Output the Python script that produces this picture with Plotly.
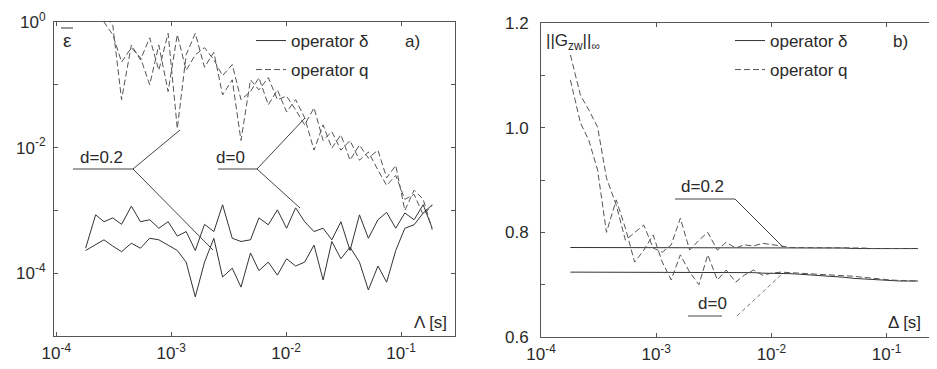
import plotly.graph_objects as go

# ---------------- data ----------------
delta_s = [1.8e-4, 2.2e-4, 2.6e-4, 3.1e-4, 3.7e-4, 4.5e-4, 5.4e-4, 6.5e-4, 7.8e-4, 9.4e-4,
           1.13e-3, 1.35e-3, 1.62e-3, 1.95e-3, 2.35e-3, 2.8e-3, 3.4e-3, 4.05e-3, 4.9e-3, 5.8e-3,
           7.0e-3, 8.4e-3, 1.01e-2, 1.21e-2, 1.45e-2, 1.75e-2, 2.1e-2, 2.5e-2, 3.0e-2, 3.6e-2,
           4.35e-2, 5.2e-2, 6.3e-2, 7.5e-2, 9.0e-2, 0.108, 0.13, 0.156, 0.187]

# panel a) mean error
eps_q_d02 = [2.0, 1.86, 1.29, 0.89, 0.058, 0.43, 0.25, 0.56, 0.17, 0.66,
             0.020, 0.30, 0.66, 0.19, 0.33, 0.069, 0.12, 0.013, 0.12, 0.083,
             0.13, 0.058, 0.066, 0.040, 0.023, 0.043, 0.013, 0.018, 0.0091, 0.013,
             0.0063, 0.0085, 0.0044, 0.0025, 0.0036, 0.0015, 0.0018, 0.00085, 0.0012]
eps_q_d0 = [3.2, 1.55, 1.0, 0.63, 0.23, 0.39, 0.27, 0.10, 0.43, 0.078,
            0.63, 0.17, 0.30, 0.39, 0.25, 0.14, 0.21, 0.058, 0.078, 0.13,
            0.048, 0.083, 0.037, 0.058, 0.030, 0.0091, 0.023, 0.0098, 0.016, 0.0063,
            0.011, 0.0068, 0.0091, 0.0033, 0.0052, 0.0010, 0.0021, 0.0015, 0.00049]
eps_delta_d0 = [2.5e-4, 8.5e-4, 6.6e-4, 7.6e-4, 6.0e-4, 1.17e-3, 6.6e-4, 7.1e-4, 5.2e-4, 6.6e-4,
                3.9e-4, 4.6e-4, 2.3e-4, 6.0e-4, 4.6e-4, 1.23e-3, 3.6e-4, 3.2e-4, 3.4e-4, 7.6e-4,
                5.9e-4, 1.02e-3, 5.2e-4, 1.1e-3, 6.6e-4, 4.6e-4, 5.2e-4, 3.4e-4, 6.6e-4, 2.3e-4,
                8.5e-4, 3.6e-4, 7.1e-4, 9.3e-4, 5.2e-4, 9.1e-4, 7.1e-4, 1.23e-3, 5.2e-4]
eps_delta_d02 = [2.3e-4, 2.8e-4, 3.4e-4, 2.7e-4, 2.2e-4, 3.0e-4, 2.5e-4, 3.6e-4, 3.4e-4, 2.8e-4,
                 2.3e-4, 1.5e-4, 4.2e-5, 1.5e-4, 3.6e-4, 8.7e-5, 1.2e-4, 6.0e-5, 2.1e-4, 1.1e-4,
                 1.5e-4, 9.3e-5, 1.7e-4, 1.3e-4, 1.5e-4, 2.8e-4, 7.8e-5, 3.2e-4, 1.7e-4, 2.6e-4,
                 1.5e-4, 5.4e-5, 1.3e-4, 7.2e-5, 2.3e-4, 5.2e-4, 5.9e-4, 9.1e-4, 1.23e-3]

# panel b) H-infinity norm
g_q_d02 = [1.139, 1.062, 1.034, 1.001, 0.904, 0.852, 0.785, 0.800, 0.814, 0.770,
           0.762, 0.776, 0.827, 0.766, 0.785, 0.800, 0.766, 0.781, 0.770, 0.776,
           0.774, 0.779, 0.777, 0.774, 0.771, 0.771, 0.771, 0.771, 0.771, 0.770,
           0.770, 0.770, 0.770, 0.769, 0.769, 0.769, 0.769, 0.769, 0.769]
g_q_d0 = [1.091, 1.009, 0.976, 0.919, 0.800, 0.862, 0.808, 0.743, 0.766, 0.795,
          0.743, 0.709, 0.757, 0.724, 0.700, 0.757, 0.709, 0.728, 0.705, 0.718,
          0.728, 0.718, 0.722, 0.724, 0.723, 0.722, 0.722, 0.721, 0.720, 0.719,
          0.718, 0.716, 0.714, 0.712, 0.710, 0.709, 0.708, 0.707, 0.707]
g_delta_d02 = [0.771, 0.771, 0.771, 0.771, 0.771, 0.771, 0.771, 0.771, 0.771, 0.771,
               0.771, 0.771, 0.771, 0.771, 0.771, 0.771, 0.771, 0.771, 0.771, 0.771,
               0.771, 0.771, 0.771, 0.771, 0.771, 0.771, 0.770, 0.770, 0.770, 0.770,
               0.770, 0.769, 0.769, 0.769, 0.769, 0.769, 0.769, 0.769, 0.769]
g_delta_d0 = [0.724, 0.724, 0.724, 0.724, 0.724, 0.724, 0.724, 0.724, 0.724, 0.724,
              0.724, 0.724, 0.724, 0.724, 0.724, 0.724, 0.724, 0.724, 0.724, 0.723,
              0.723, 0.722, 0.722, 0.721, 0.721, 0.720, 0.719, 0.718, 0.717, 0.716,
              0.714, 0.712, 0.711, 0.709, 0.708, 0.707, 0.707, 0.707, 0.707]

x_tickvals = [1e-4, 1e-3, 1e-2, 1e-1]
x_ticktext = ["10<sup>-4</sup>", "10<sup>-3</sup>", "10<sup>-2</sup>", "10<sup>-1</sup>"]
ya_tickvals = [1, 1e-1, 1e-2, 1e-3, 1e-4, 1e-5]
ya_ticktext = ["10<sup>0</sup>", "", "10<sup>-2</sup>", "", "10<sup>-4</sup>", ""]
yb_tickvals = [0.6, 0.7, 0.8, 0.9, 1.0, 1.1, 1.2]
yb_ticktext = ["0.6", "", "0.8", "", "1.0", "", "1.2"]

# ---------------- figure ----------------
# The page body has an 8 px margin, so the figure is made 8 px smaller and every
# reference-pixel position is shifted by that offset.
OFF = 8
W, H = 937 - OFF, 369 - OFF
FONT = "Liberation Sans, Arial, sans-serif"
INK = "#2a2a2a"
LINE_D = dict(color="#333333", width=1)
LINE_Q = dict(color="#555555", width=1, dash="6px,3px")


def px(x):
    return (x - OFF) / W


def py(y):
    return 1 - (y - OFF) / H


fig = go.Figure()

# panel a
fig.add_trace(go.Scatter(x=delta_s, y=eps_delta_d0, mode="lines", line=LINE_D, name="operator δ",
                         xaxis="x", yaxis="y", legend="legend", showlegend=True))
fig.add_trace(go.Scatter(x=delta_s, y=eps_delta_d02, mode="lines", line=LINE_D, name="operator δ",
                         xaxis="x", yaxis="y", showlegend=False))
fig.add_trace(go.Scatter(x=delta_s, y=eps_q_d0, mode="lines", line=LINE_Q, name="operator q",
                         xaxis="x", yaxis="y", legend="legend2", showlegend=True))
fig.add_trace(go.Scatter(x=delta_s, y=eps_q_d02, mode="lines", line=LINE_Q, name="operator q",
                         xaxis="x", yaxis="y", showlegend=False))

# panel b
fig.add_trace(go.Scatter(x=delta_s, y=g_delta_d02, mode="lines", line=LINE_D, name="operator δ",
                         xaxis="x2", yaxis="y2", legend="legend3", showlegend=True))
fig.add_trace(go.Scatter(x=delta_s, y=g_delta_d0, mode="lines", line=LINE_D, name="operator δ",
                         xaxis="x2", yaxis="y2", showlegend=False))
fig.add_trace(go.Scatter(x=delta_s, y=g_q_d02, mode="lines", line=LINE_Q, name="operator q",
                         xaxis="x2", yaxis="y2", legend="legend4", showlegend=True))
fig.add_trace(go.Scatter(x=delta_s, y=g_q_d0, mode="lines", line=LINE_Q, name="operator q",
                         xaxis="x2", yaxis="y2", showlegend=False))

axis_common = dict(showgrid=False, zeroline=False, showline=True, linecolor="#555555", linewidth=1,
                   mirror="ticks", ticks="inside", ticklen=4, tickcolor="#555555",
                   automargin=False,
                   tickfont=dict(family=FONT, size=17, color=INK))

fig.update_layout(
    width=W, height=H,
    margin=dict(l=0, r=0, t=0, b=0, autoexpand=False),
    paper_bgcolor="white", plot_bgcolor="white",
    font=dict(family=FONT, size=17, color=INK),
    xaxis=dict(type="log", domain=[px(54), px(455)], range=[-4.02, -0.53], anchor="y",
               tickvals=x_tickvals, ticktext=x_ticktext, ticklabelstandoff=2, **axis_common),
    yaxis=dict(type="log", domain=[py(336), py(22)], range=[-5, 0], anchor="x",
               tickvals=ya_tickvals, ticktext=ya_ticktext, ticklabelstandoff=4, **axis_common),
    xaxis2=dict(type="log", domain=[px(541), px(935)], range=[-4.0, -0.58], anchor="y2",
                tickvals=x_tickvals, ticktext=x_ticktext, ticklabelstandoff=2, **axis_common),
    yaxis2=dict(domain=[py(337), py(23)], range=[0.6, 1.2], anchor="x2",
                tickvals=yb_tickvals, ticktext=yb_ticktext, ticklabelstandoff=8, **axis_common),
)

leg_common = dict(xanchor="left", yanchor="middle", bgcolor="rgba(0,0,0,0)", borderwidth=0,
                  font=dict(family=FONT, size=17, color=INK))
fig.update_layout(
    legend=dict(x=px(251), y=py(41), **leg_common),
    legend2=dict(x=px(251), y=py(70), **leg_common),
    legend3=dict(x=px(730), y=py(41), **leg_common),
    legend4=dict(x=px(730), y=py(70), **leg_common),
)

ann = []


def text(x, y, s, size=17, xanchor="center"):
    ann.append(dict(x=px(x), y=py(y), xref="paper", yref="paper", text=s, showarrow=False,
                    xanchor=xanchor, yanchor="middle",
                    font=dict(family=FONT, size=size, color=INK)))


text(412, 41, "a)")
text(900, 41, "b)")
text(67, 40, "ε", size=19)
text(430, 322, "Λ [s]")
text(904, 322, "Δ [s]")
text(544, 42, "||G<sub>zw</sub>||<sub>∞</sub>", xanchor="left")
text(101, 157, "d=0.2")
text(230, 157, "d=0")
text(702, 187, "d=0.2")
text(712, 303, "d=0")
fig.update_layout(annotations=ann)

shapes = []


def seg(x0, y0, x1, y1, dash="solid", color="#444444"):
    shapes.append(dict(type="line", xref="paper", yref="paper", x0=px(x0), y0=py(y0),
                       x1=px(x1), y1=py(y1), line=dict(color=color, width=1, dash=dash)))


# overbar of epsilon
seg(61, 28, 73, 28, color="#333333")
# pointer lines panel a
seg(73, 169, 133, 169)
seg(133, 169, 180, 130)
seg(133, 169, 213, 250)
seg(218, 169, 257, 169)
seg(257, 169, 305, 118)
seg(257, 169, 300, 208)
# pointer lines panel b
seg(675, 199, 735, 199)
seg(735, 199, 783, 247)
seg(688, 316, 722, 316)
seg(737, 316, 783, 273, dash="4px,3px", color="#777777")
fig.update_layout(shapes=shapes)

fig.write_html("out.html")
